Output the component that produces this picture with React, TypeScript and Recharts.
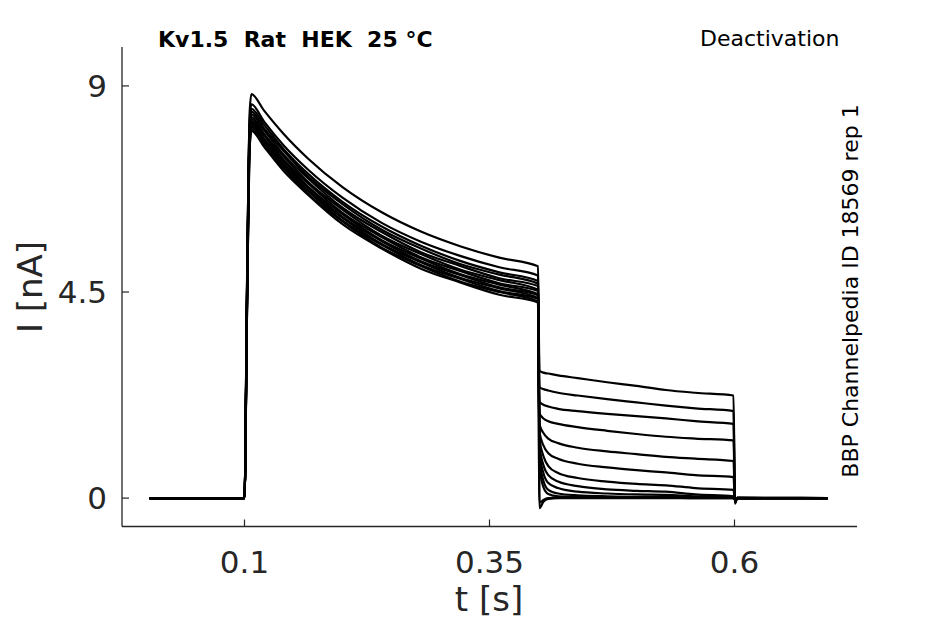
import { FC } from 'react'
import { Line, LineChart, XAxis, YAxis } from 'recharts'

// sample times [s]
const timeS = [
	0.003, 0.1, 0.1025, 0.105, 0.107, 0.12, 0.14, 0.165, 0.2, 0.24, 0.28, 0.32, 0.36, 0.3995,
	0.401, 0.405, 0.41, 0.42, 0.44, 0.47, 0.5, 0.53, 0.56, 0.599,
	0.6005, 0.603, 0.695,
]

// current [nA], one array per sweep
const sweep01 = [0, 0, 4.6, 8.3, 8.82, 8.46, 7.95, 7.41, 6.79, 6.24, 5.82, 5.5, 5.25, 5.06, 2.78, 2.74, 2.72, 2.68, 2.62, 2.53, 2.45, 2.36, 2.3, 2.24, -0.12, 0.01, 0]
const sweep02 = [0, 0, 4.5, 8.1, 8.6, 8.22, 7.7, 7.17, 6.56, 6.01, 5.6, 5.29, 5.04, 4.86, 2.42, 2.38, 2.35, 2.3, 2.24, 2.16, 2.09, 2.02, 1.96, 1.9, -0.1, 0.01, 0]
const sweep03 = [0, 0, 4.4, 8.0, 8.5, 8.15, 7.62, 7.08, 6.47, 5.93, 5.51, 5.18, 4.93, 4.74, 2.1, 2.04, 2.0, 1.95, 1.9, 1.84, 1.79, 1.74, 1.68, 1.62, -0.09, 0, 0]
const sweep04 = [0, 0, 4.4, 7.9, 8.44, 8.07, 7.58, 7.02, 6.42, 5.86, 5.45, 5.11, 4.88, 4.68, 1.85, 1.74, 1.68, 1.62, 1.55, 1.47, 1.4, 1.34, 1.3, 1.26, -0.08, 0, 0]
const sweep05 = [0, 0, 4.3, 7.9, 8.38, 8.03, 7.5, 6.98, 6.34, 5.81, 5.37, 5.07, 4.8, 4.63, 1.62, 1.42, 1.3, 1.2, 1.1, 1.02, 0.96, 0.9, 0.86, 0.81, -0.07, 0, 0]
const sweep06 = [0, 0, 4.3, 7.8, 8.32, 7.95, 7.46, 6.9, 6.3, 5.73, 5.33, 4.99, 4.76, 4.55, 1.45, 1.15, 0.98, 0.86, 0.75, 0.67, 0.61, 0.56, 0.5, 0.46, -0.06, 0, 0]
const sweep07 = [0, 0, 4.2, 7.8, 8.27, 7.92, 7.39, 6.87, 6.23, 5.7, 5.26, 4.96, 4.69, 4.52, 1.3, 0.92, 0.7, 0.55, 0.44, 0.36, 0.31, 0.28, 0.22, 0.18, -0.05, 0, 0]
const sweep08 = [0, 0, 4.2, 7.7, 8.22, 7.85, 7.36, 6.8, 6.2, 5.63, 5.23, 4.89, 4.66, 4.45, 1.15, 0.72, 0.5, 0.36, 0.26, 0.19, 0.16, 0.14, 0.08, 0.04, -0.04, 0, 0]
const sweep09 = [0, 0, 4.1, 7.7, 8.18, 7.83, 7.3, 6.78, 6.14, 5.61, 5.17, 4.87, 4.6, 4.43, 1.0, 0.55, 0.33, 0.22, 0.14, 0.1, 0.08, 0.07, 0.04, 0.02, -0.04, 0, 0]
const sweep10 = [0, 0, 4.1, 7.6, 8.14, 7.77, 7.28, 6.72, 6.12, 5.55, 5.15, 4.81, 4.58, 4.37, 0.85, 0.38, 0.18, 0.1, 0.06, 0.04, 0.03, 0.03, 0.02, 0.01, -0.03, 0, 0]
const sweep11 = [0, 0, 4.0, 7.6, 8.1, 7.75, 7.22, 6.7, 6.06, 5.53, 5.09, 4.79, 4.52, 4.35, 0.7, 0.24, 0.09, 0.04, 0.03, 0.02, 0.02, 0.02, 0.01, 0.01, -0.03, 0, 0]
const sweep12 = [0, 0, 4.0, 7.5, 8.06, 7.69, 7.2, 6.64, 6.04, 5.47, 5.07, 4.73, 4.5, 4.29, -0.1, -0.04, 0, 0.01, 0.01, 0.01, 0.01, 0.01, 0, 0, -0.02, 0, 0]
const sweep13 = [0, 0, 3.9, 7.5, 8.02, 7.67, 7.14, 6.62, 5.98, 5.45, 5.01, 4.71, 4.44, 4.27, -0.22, -0.08, -0.02, 0, 0, 0, 0, 0, 0, 0, -0.02, 0, 0]

const sweeps = [sweep01, sweep02, sweep03, sweep04, sweep05, sweep06, sweep07, sweep08, sweep09, sweep10, sweep11, sweep12, sweep13]

const xTicks = [0.1, 0.35, 0.6]
const yTicks = [0, 4.5, 9]

const data = timeS.map((t, i) => {
	const row: Record<string, number> = { t }
	sweeps.forEach((s, k) => { row[`s${k}`] = s[i] })
	return row
})

const AXIS = '#262626'
const FONT = '"DejaVu Sans", sans-serif'

const XTick = ({ x, y, payload }: any) => (
	<g>
		<line x1={x} y1={y} x2={x} y2={y - 7} stroke={AXIS} strokeWidth={1.2} />
		<text x={x} y={y + 46} textAnchor="middle" fontSize={31} fontFamily={FONT} fill={AXIS}>{payload.value}</text>
	</g>
)

const YTick = ({ x, y, payload }: any) => (
	<g>
		<line x1={x} y1={y} x2={x + 7} y2={y} stroke={AXIS} strokeWidth={1.2} />
		<text x={x - 15} y={y + 11} textAnchor="end" fontSize={31} fontFamily={FONT} fill={AXIS}>{payload.value}</text>
	</g>
)

const App: FC = () => {
	return <div style={{ position: 'absolute', left: 0, top: 0, width: 945, height: 624, background: '#fff' }}>
		<LineChart width={945} height={624} data={data} margin={{ top: 47, right: 88, left: 42, bottom: 37.5 }}>
			<XAxis
				dataKey="t"
				type="number"
				domain={[-0.025, 0.725]}
				ticks={xTicks}
				interval={0}
				allowDataOverflow
				height={60}
				tickSize={0}
				tickMargin={0}
				tickLine={false}
				axisLine={{ stroke: AXIS, strokeWidth: 1.3 }}
				tick={(p: any) => <XTick {...p} />}
			/>
			<YAxis
				type="number"
				domain={[-0.62, 9.85]}
				ticks={yTicks}
				interval={0}
				allowDataOverflow
				width={80}
				tickSize={0}
				tickMargin={0}
				tickLine={false}
				axisLine={{ stroke: AXIS, strokeWidth: 1.3 }}
				tick={(p: any) => <YTick {...p} />}
			/>
			{sweeps.map((_, k) => (
				<Line
					key={`s${k}`}
					dataKey={`s${k}`}
					type="monotone"
					stroke="#000"
					strokeWidth={2.2}
					dot={false}
					isAnimationActive={false}
				/>
			))}
		</LineChart>
		<svg width={945} height={624} style={{ position: 'absolute', left: 0, top: 0, pointerEvents: 'none' }}>
			<text x={158} y={47} fontSize={22} fontWeight="bold" fontFamily={FONT} fill="#000" style={{ whiteSpace: 'pre' }}>Kv1.5  Rat  HEK  25 °C</text>
			<text x={700} y={46} fontSize={22} fontFamily={FONT} fill="#000">Deactivation</text>
			<text transform="translate(858,291) rotate(-90)" textAnchor="middle" fontSize={22} fontFamily={FONT} fill="#000">BBP Channelpedia ID 18569 rep 1</text>
			<text x={489} y={611} textAnchor="middle" fontSize={34} fontFamily={FONT} fill={AXIS}>t [s]</text>
			<text transform="translate(42,287) rotate(-90)" textAnchor="middle" fontSize={34} fontFamily={FONT} fill={AXIS}>I [nA]</text>
		</svg>
	</div>
}

export default App
